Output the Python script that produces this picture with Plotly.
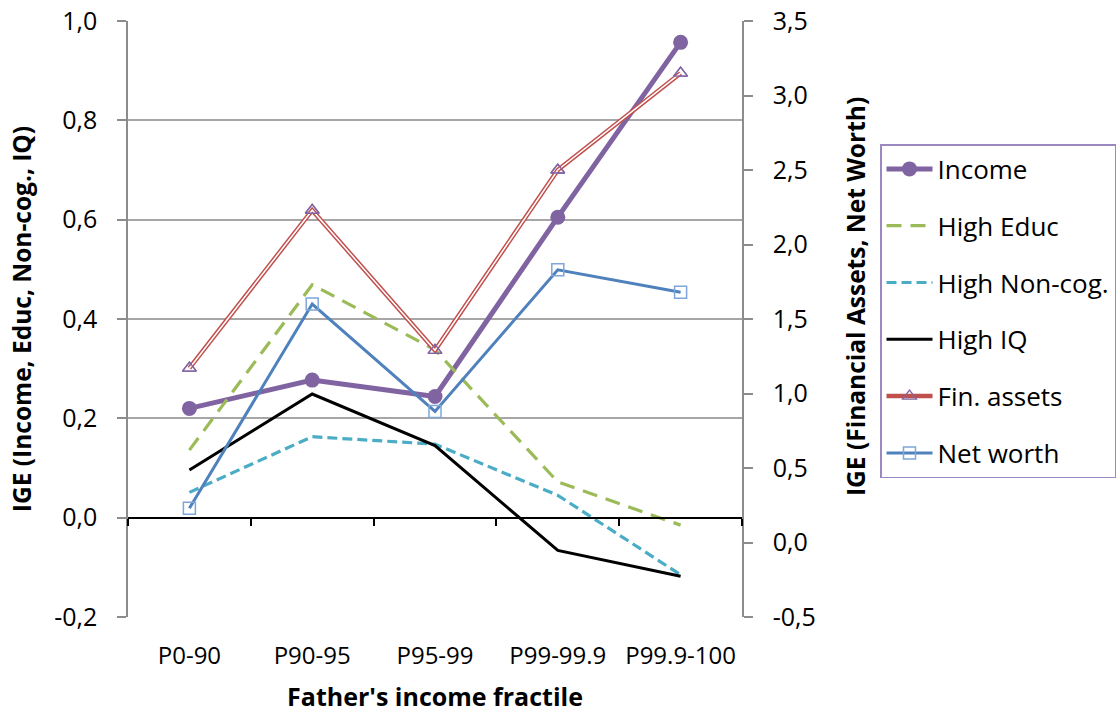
import plotly.graph_objects as go

categories = ["P0-90", "P90-95", "P95-99", "P99-99.9", "P99.9-100"]
income = [0.220, 0.277, 0.244, 0.605, 0.957]
high_educ = [0.136, 0.469, 0.338, 0.072, -0.015]
high_noncog = [0.051, 0.163, 0.148, 0.045, -0.115]
high_iq = [0.096, 0.249, 0.145, -0.066, -0.118]
fin_assets = [1.17, 2.23, 1.29, 2.50, 3.15]
net_worth = [0.23, 1.60, 0.88, 1.83, 1.68]

left_ticks = [-0.2, 0.0, 0.2, 0.4, 0.6, 0.8, 1.0]
right_ticks = [-0.5, 0.0, 0.5, 1.0, 1.5, 2.0, 2.5, 3.0, 3.5]
left_range = [-0.2, 1.0]
right_range = [-0.5, 3.5]

FONT = "Open Sans"
W, H = 1117, 717
L, R, T, B = 128, 742, 21, 617

def fmt(v):
    return f"{v:.1f}".replace(".", ",")

fig = go.Figure()

fig.add_trace(go.Scatter(
    x=categories, y=income, name="Income", legendgroup="a",
    mode="lines+markers",
    line=dict(color="#8064A2", width=5),
    marker=dict(symbol="circle", size=15, color="#8064A2")))
fig.add_trace(go.Scatter(
    x=categories, y=high_educ, name="High Educ", legendgroup="b",
    mode="lines", line=dict(color="#9BBB59", width=3.2, dash="15px,9px")))
fig.add_trace(go.Scatter(
    x=categories, y=high_noncog, name="High Non-cog.", legendgroup="c",
    mode="lines", line=dict(color="#4BACC6", width=3.2, dash="10px,5px")))
fig.add_trace(go.Scatter(
    x=categories, y=high_iq, name="High IQ", legendgroup="d",
    mode="lines", line=dict(color="#000000", width=3)))
fig.add_trace(go.Scatter(
    x=categories, y=fin_assets, name="Fin. assets", legendgroup="e",
    yaxis="y2", mode="lines+markers",
    line=dict(color="#C0504D", width=4.5),
    marker=dict(symbol="triangle-up-open", size=12, color="#8064A2",
                line=dict(width=1.3))))
fig.add_trace(go.Scatter(
    x=categories, y=fin_assets, name="Fin. assets", legendgroup="e",
    yaxis="y2", mode="lines", showlegend=False, hoverinfo="skip",
    line=dict(color="#FFFFFF", width=1.5)))
fig.add_trace(go.Scatter(
    x=categories, y=fin_assets, name="Fin. assets", legendgroup="e",
    yaxis="y2", mode="markers", showlegend=False,
    marker=dict(symbol="triangle-up-open", size=12, color="#8064A2",
                line=dict(width=1.3))))
fig.add_trace(go.Scatter(
    x=categories, y=net_worth, name="Net worth", legendgroup="f",
    yaxis="y2", mode="lines+markers",
    line=dict(color="#4F81BD", width=3),
    marker=dict(symbol="square-open", size=12, color="#7EA6D8",
                line=dict(width=1.5))))
# carrier for the zero-line category axis
fig.add_trace(go.Scatter(x=[0], y=[None], xaxis="x2", showlegend=False,
                         hoverinfo="skip", mode="lines"))

zero_pos = (0 - left_range[0]) / (left_range[1] - left_range[0])
n = len(categories)
bounds = [i - 0.5 for i in range(n + 1)]

fig.update_layout(
    width=W, height=H,
    margin=dict(l=L, r=W - R, t=T, b=H - B, pad=0, autoexpand=False),
    paper_bgcolor="white", plot_bgcolor="white",
    font=dict(family=FONT, size=24, color="#000000"),
    showlegend=True,
    xaxis=dict(
        type="category", range=[-0.5, n - 0.5], automargin=False,
        showgrid=False, showline=False, zeroline=False, ticks="",
        tickfont=dict(size=24), ticklabelstandoff=22,
        title=dict(text="<b>Father's income fractile</b>",
                   font=dict(size=25), standoff=18),
    ),
    xaxis2=dict(
        overlaying="x", anchor="free", position=zero_pos, side="bottom",
        range=[-0.5, n - 0.5], tickvals=bounds, showticklabels=False,
        ticks="outside", ticklen=7, tickwidth=1.5, tickcolor="#000000",
        showline=True, linecolor="#000000", linewidth=2,
        showgrid=False, zeroline=False, automargin=False,
    ),
    yaxis=dict(
        range=left_range, tickvals=left_ticks, automargin=False,
        ticktext=[fmt(v) for v in left_ticks],
        showgrid=True, gridcolor="#A6A6A6", gridwidth=1.5,
        zeroline=False, showline=True, linecolor="#8C8C8C", linewidth=1.5,
        ticks="outside", ticklen=9, tickcolor="#8C8C8C", tickwidth=1.5,
        ticklabelstandoff=15, tickfont=dict(size=25),
        title=dict(text="<b>IGE (Income, Educ, Non-cog., IQ)</b>",
                   font=dict(size=24.5), standoff=16),
    ),
    yaxis2=dict(
        overlaying="y", side="right", range=right_range, automargin=False,
        tickvals=right_ticks, ticktext=[fmt(v) for v in right_ticks],
        showgrid=False, zeroline=False, showline=True,
        linecolor="#8C8C8C", linewidth=1.5,
        ticks="outside", ticklen=9, tickcolor="#8C8C8C", tickwidth=1.5,
        ticklabelstandoff=15, tickfont=dict(size=25),
    ),
    annotations=[dict(
        text="<b>IGE (Financial Assets, Net Worth)</b>",
        xref="paper", yref="paper",
        x=(855 - L) / (R - L), y=(B - 297) / (B - T),
        xanchor="center", yanchor="middle", textangle=-90,
        showarrow=False, font=dict(size=24.5, family=FONT, color="#000000"),
    )],
    legend=dict(
        x=(880 - L) / (R - L), y=(B - 144) / (B - T),
        xanchor="left", yanchor="top",
        bgcolor="white", bordercolor="#9B87C1", borderwidth=1.5,
        font=dict(size=26), tracegroupgap=20, itemwidth=46,
        traceorder="grouped",
    ),
)

fig.write_html("out.html")
